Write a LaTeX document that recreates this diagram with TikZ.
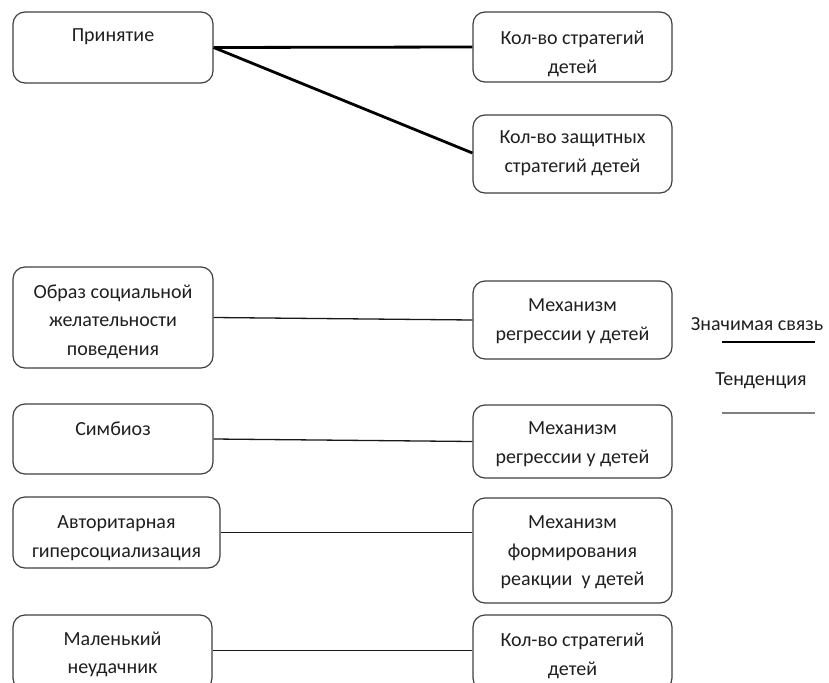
\documentclass[tikz,border=0pt]{standalone}
\usepackage{fontspec}
\setmainfont{Carlito}
\begin{document}
\begin{tikzpicture}[x=1pt,y=-1pt,
  fbox/.style={draw=black!75, line width=1.2pt, rounded corners=12pt, inner sep=0pt, fill=white},
  ttext/.style={anchor=north, align=center, font=\fontsize{20}{28.7}\selectfont, text=black!88, inner sep=0pt},
  signif/.style={line width=2.8pt, black},
  trend/.style={line width=1.3pt, black!90},
  legtrend/.style={line width=2pt, black!50}]
\useasboundingbox (0,0) rectangle (829,682);
\clip (0,0) rectangle (829,682);
% left boxes
\node[fbox, minimum width=200pt, minimum height=71pt] (a) at (113,47.5) {};
\node[ttext] (at) at ([yshift=-17.5pt]a.north) {Принятие};
\node[fbox, minimum width=200pt, minimum height=101pt] (b) at (113,317.5) {};
\node[ttext] (bt) at ([yshift=-18pt]b.north) {Образ социальной\\желательности\\поведения};
\node[fbox, minimum width=200pt, minimum height=70pt] (c) at (113,439) {};
\node[ttext] (ct) at ([yshift=-18pt]c.north) {Симбиоз};
\node[fbox, minimum width=207pt, minimum height=71pt] (d) at (116.5,532.5) {};
\node[ttext] (dt) at ([yshift=-19pt]d.north) {Авторитарная\\гиперсоциализация};
\node[fbox, minimum width=199pt, minimum height=75pt] (e) at (112.5,652.5) {};
\node[ttext] (et) at ([yshift=-17pt]e.north) {Маленький\\неудачник};
% right boxes
\node[fbox, minimum width=199pt, minimum height=70pt] (r1) at (572.5,47) {};
\node[ttext] (r1t) at ([yshift=-19.5pt]r1.north) {Кол-во стратегий\\детей};
\node[fbox, minimum width=199pt, minimum height=78pt] (r2) at (572.5,154) {};
\node[ttext] (r2t) at ([yshift=-16pt]r2.north) {Кол-во защитных\\стратегий детей};
\node[fbox, minimum width=199pt, minimum height=78pt] (r3) at (572.5,320) {};
\node[ttext] (r3t) at ([yshift=-18pt]r3.north) {Механизм\\регрессии у детей};
\node[fbox, minimum width=199pt, minimum height=73pt] (r4) at (572.5,441.5) {};
\node[ttext] (r4t) at ([yshift=-17pt]r4.north) {Механизм\\регрессии у детей};
\node[fbox, minimum width=199pt, minimum height=105pt] (r5) at (572.5,550.5) {};
\node[ttext] (r5t) at ([yshift=-18pt]r5.north) {Механизм\\формирования\\реакции~ у детей};
\node[fbox, minimum width=199pt, minimum height=75pt] (r6) at (572.5,652.5) {};
\node[ttext] (r6t) at ([yshift=-18.5pt]r6.north) {Кол-во стратегий\\детей};
% connectors
\draw[signif] (a.east) -- (r1.west);
\draw[signif] (a.east) -- ([yshift=1pt]r2.west);
\draw[trend] (b.east) -- (r3.west);
\draw[trend] (c.east) -- (r4.west);
\draw[trend] (d.east) -- (d.east -| r5.west);
\draw[trend] ([yshift=2pt]e.east) -- ([yshift=2pt]r6.west);
% legend
\node[ttext, anchor=center] (l1) at (757,324) {Значимая связь};
\coordinate (l1a) at (722,342);
\coordinate (l1b) at (815,342);
\draw[signif, line width=2.5pt] (l1a) -- (l1b);
\node[ttext, anchor=center] (l2) at (761,381) {Тенденция};
\coordinate (l2a) at (722,413);
\coordinate (l2b) at (815,413);
\draw[legtrend] (l2a) -- (l2b);
\end{tikzpicture}
\end{document}
